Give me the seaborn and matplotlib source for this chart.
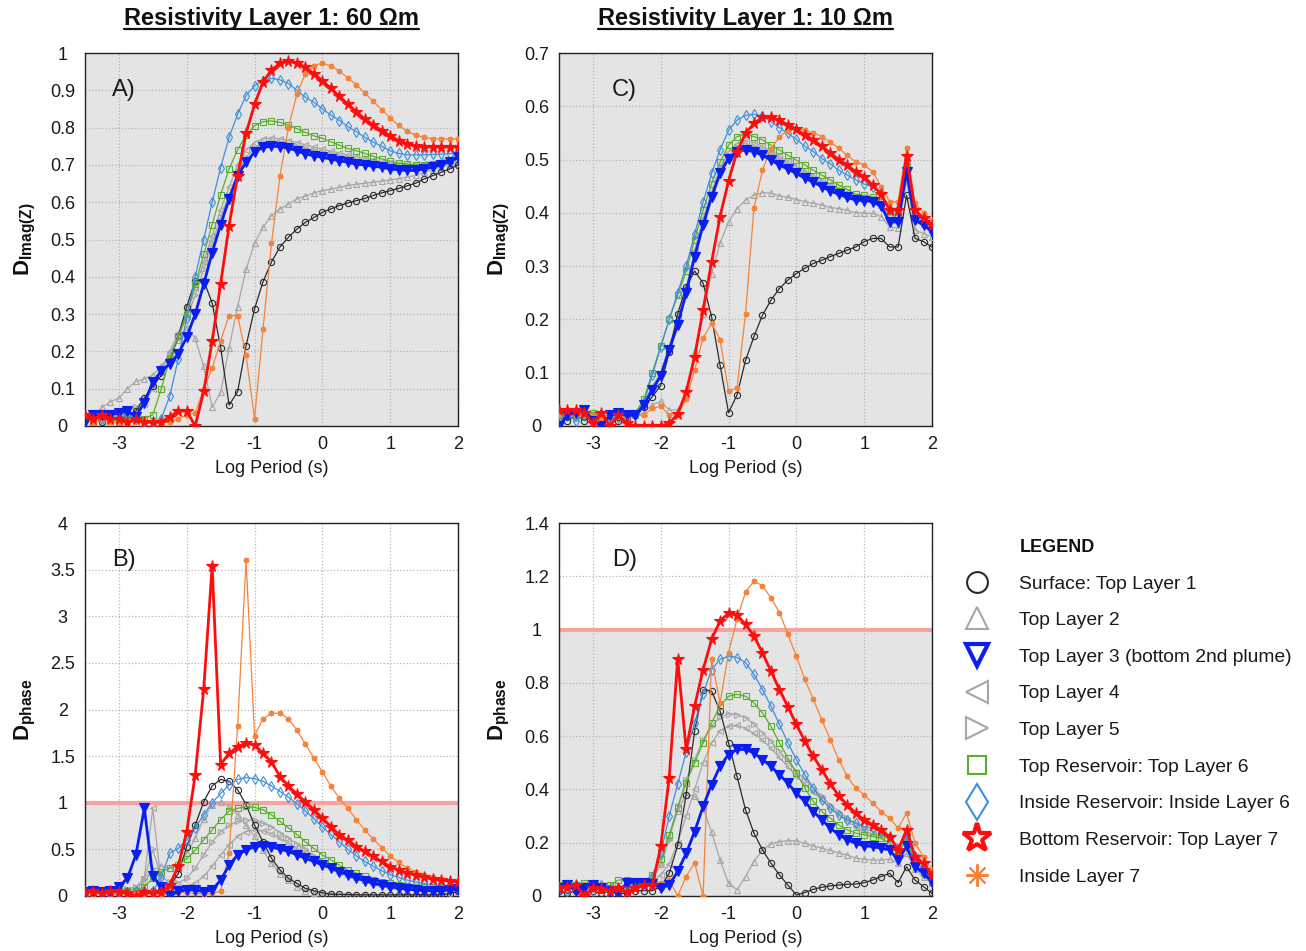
import numpy as np
import pandas as pd
import matplotlib
matplotlib.use("Agg")
import matplotlib.pyplot as plt
import seaborn as sns
from matplotlib.lines import Line2D

# ---------------- data ----------------
LOG_PERIOD = [-3.5, -3.375, -3.25, -3.125, -3.0, -2.875, -2.75, -2.625, -2.5, -2.375,
              -2.25, -2.125, -2.0, -1.875, -1.75, -1.625, -1.5, -1.375, -1.25, -1.125,
              -1.0, -0.875, -0.75, -0.625, -0.5, -0.375, -0.25, -0.125, 0.0, 0.125,
              0.25, 0.375, 0.5, 0.625, 0.75, 0.875, 1.0, 1.125, 1.25, 1.375,
              1.5, 1.625, 1.75, 1.875, 2.0]

SERIES = ["Surface: Top Layer 1", "Top Layer 2", "Top Layer 3 (bottom 2nd plume)",
          "Top Layer 4", "Top Layer 5", "Top Reservoir: Top Layer 6",
          "Inside Reservoir: Inside Layer 6", "Bottom Reservoir: Top Layer 7", "Inside Layer 7"]

# Panel A: D_Imag(Z), layer-1 resistivity 60 ohm-m
A_L1 = [0.02, 0.02, 0.01, 0.02, 0.02, 0.03, 0.04, 0.075, 0.108, 0.135, 0.175, 0.24, 0.32, 0.39,
        0.39, 0.33, 0.21, 0.056, 0.092, 0.215, 0.314, 0.387, 0.44, 0.48, 0.506, 0.528, 0.546, 0.559,
        0.573, 0.582, 0.591, 0.598, 0.604, 0.61, 0.618, 0.625, 0.631, 0.637, 0.644, 0.651, 0.662, 0.671,
        0.68, 0.689, 0.70]
A_L2 = [0.02, 0.03, 0.05, 0.065, 0.075, 0.10, 0.12, 0.126, 0.137, 0.16, 0.19, 0.23, 0.265, 0.235,
        0.16, 0.05, 0.09, 0.21, 0.32, 0.42, 0.49, 0.533, 0.564, 0.582, 0.595, 0.609, 0.617, 0.625,
        0.631, 0.635, 0.64, 0.645, 0.648, 0.651, 0.654, 0.657, 0.66, 0.663, 0.667, 0.672, 0.68, 0.687,
        0.694, 0.70, 0.705]
A_L3 = [0.01, 0.03, 0.03, 0.03, 0.035, 0.04, 0.025, 0.063, 0.117, 0.148, 0.166, 0.193, 0.238, 0.30,
        0.38, 0.465, 0.54, 0.608, 0.671, 0.707, 0.734, 0.747, 0.75, 0.749, 0.745, 0.738, 0.729, 0.725,
        0.72, 0.716, 0.711, 0.707, 0.702, 0.70, 0.696, 0.694, 0.689, 0.687, 0.685, 0.685, 0.689, 0.694,
        0.70, 0.709, 0.72]
A_L4 = [0.02, 0.02, 0.03, 0.02, 0.03, 0.03, 0.04, 0.06, 0.10, 0.15, 0.20, 0.25, 0.30, 0.37,
        0.44, 0.51, 0.58, 0.64, 0.70, 0.74, 0.76, 0.77, 0.772, 0.77, 0.765, 0.76, 0.754, 0.748,
        0.742, 0.737, 0.732, 0.727, 0.722, 0.717, 0.712, 0.708, 0.705, 0.703, 0.702, 0.702, 0.703, 0.706,
        0.71, 0.715, 0.72]
A_L5 = [0.02, 0.02, 0.02, 0.03, 0.03, 0.04, 0.05, 0.07, 0.11, 0.15, 0.19, 0.24, 0.29, 0.35,
        0.42, 0.49, 0.56, 0.62, 0.68, 0.72, 0.745, 0.757, 0.76, 0.758, 0.754, 0.749, 0.743, 0.738,
        0.733, 0.728, 0.723, 0.718, 0.713, 0.709, 0.705, 0.701, 0.698, 0.696, 0.695, 0.695, 0.697, 0.70,
        0.705, 0.711, 0.717]
A_L6 = [0.02, 0.01, 0.02, 0.02, 0.01, 0.02, 0.02, 0.02, 0.03, 0.10, 0.18, 0.24, 0.30, 0.38,
        0.46, 0.54, 0.62, 0.69, 0.74, 0.78, 0.805, 0.816, 0.818, 0.814, 0.807, 0.797, 0.787, 0.778,
        0.771, 0.762, 0.753, 0.744, 0.738, 0.731, 0.723, 0.716, 0.71, 0.705, 0.702, 0.70, 0.70, 0.702,
        0.706, 0.713, 0.719]
A_IN6 = [0.02, 0.03, 0.02, 0.02, 0.02, 0.03, 0.02, 0.01, 0.01, 0.02, 0.08, 0.18, 0.29, 0.40,
         0.50, 0.60, 0.693, 0.774, 0.836, 0.886, 0.912, 0.926, 0.932, 0.928, 0.918, 0.90, 0.881, 0.868,
         0.85, 0.834, 0.819, 0.803, 0.789, 0.774, 0.761, 0.75, 0.738, 0.731, 0.727, 0.727, 0.727, 0.728,
         0.729, 0.73, 0.733]
A_L7 = [0.03, 0.02, 0.03, 0.02, 0.02, 0.01, 0.02, 0.01, 0.01, 0.01, 0.025, 0.04, 0.04, 0.0,
        0.093, 0.227, 0.382, 0.537, 0.671, 0.785, 0.862, 0.923, 0.954, 0.973, 0.978, 0.973, 0.962, 0.944,
        0.926, 0.905, 0.884, 0.863, 0.843, 0.823, 0.807, 0.792, 0.778, 0.765, 0.756, 0.75, 0.748, 0.748,
        0.748, 0.748, 0.748]
A_IN7 = [0.02, 0.01, 0.02, 0.01, 0.01, 0.01, 0.01, 0.01, 0.01, 0.01, 0.01, 0.02, 0.03, 0.035,
         0.10, 0.155, 0.229, 0.296, 0.296, 0.19, 0.02, 0.26, 0.49, 0.67, 0.80, 0.89, 0.945, 0.966,
         0.973, 0.965, 0.952, 0.933, 0.915, 0.893, 0.87, 0.848, 0.826, 0.806, 0.79, 0.78, 0.774, 0.77,
         0.77, 0.77, 0.77]

# Panel B: D_phase, 60 ohm-m
B_L1 = [0.03, 0.04, 0.03, 0.02, 0.03, 0.04, 0.03, 0.04, 0.05, 0.06, 0.10, 0.24, 0.53, 0.76,
        1.01, 1.18, 1.25, 1.23, 1.14, 0.98, 0.76, 0.58, 0.405, 0.28, 0.19, 0.136, 0.082, 0.057,
        0.036, 0.02, 0.018, 0.015, 0.013, 0.012, 0.012, 0.012, 0.012, 0.012, 0.012, 0.012, 0.012, 0.012,
        0.015, 0.025, 0.05]
B_L2 = [0.05, 0.06, 0.05, 0.04, 0.05, 0.06, 0.08, 0.15, 0.28, 0.32, 0.30, 0.33, 0.46, 0.62,
        0.83, 0.98, 1.01, 0.96, 0.87, 0.76, 0.64, 0.49, 0.35, 0.24, 0.17, 0.10, 0.057, 0.036,
        0.02, 0.015, 0.015, 0.015, 0.015, 0.015, 0.015, 0.015, 0.015, 0.015, 0.015, 0.015, 0.015, 0.015,
        0.02, 0.03, 0.04]
B_L3 = [0.04, 0.05, 0.04, 0.05, 0.10, 0.19, 0.44, 0.94, 0.21, 0.10, 0.0, 0.05, 0.065, 0.065,
        0.045, 0.065, 0.17, 0.33, 0.44, 0.49, 0.53, 0.54, 0.53, 0.50, 0.48, 0.44, 0.405, 0.37,
        0.333, 0.30, 0.26, 0.226, 0.19, 0.165, 0.136, 0.115, 0.10, 0.082, 0.072, 0.065, 0.057, 0.054,
        0.054, 0.065, 0.072]
B_L4 = [0.03, 0.04, 0.05, 0.04, 0.05, 0.06, 0.08, 0.20, 0.94, 0.12, 0.10, 0.09, 0.10, 0.14,
        0.21, 0.32, 0.44, 0.55, 0.64, 0.69, 0.71, 0.70, 0.67, 0.62, 0.57, 0.51, 0.46, 0.40,
        0.35, 0.30, 0.26, 0.23, 0.20, 0.17, 0.15, 0.13, 0.12, 0.11, 0.097, 0.09, 0.082, 0.08,
        0.08, 0.082, 0.086]
B_L5 = [0.04, 0.05, 0.06, 0.05, 0.06, 0.08, 0.10, 0.18, 0.50, 0.20, 0.15, 0.14, 0.19, 0.30,
        0.44, 0.58, 0.69, 0.76, 0.80, 0.82, 0.81, 0.78, 0.74, 0.68, 0.62, 0.56, 0.50, 0.43,
        0.37, 0.32, 0.27, 0.24, 0.20, 0.17, 0.147, 0.13, 0.11, 0.10, 0.09, 0.082, 0.075, 0.075,
        0.075, 0.078, 0.082]
B_L6 = [0.03, 0.04, 0.05, 0.04, 0.05, 0.05, 0.05, 0.10, 0.19, 0.26, 0.30, 0.33, 0.40, 0.49,
        0.60, 0.71, 0.82, 0.91, 0.94, 0.96, 0.95, 0.925, 0.87, 0.80, 0.73, 0.66, 0.58, 0.51,
        0.44, 0.39, 0.33, 0.28, 0.244, 0.21, 0.17, 0.154, 0.136, 0.118, 0.11, 0.10, 0.10, 0.10,
        0.10, 0.10, 0.10]
B_IN6 = [0.03, 0.04, 0.03, 0.04, 0.03, 0.04, 0.05, 0.05, 0.05, 0.20, 0.46, 0.51, 0.60, 0.73,
         0.87, 1.00, 1.10, 1.19, 1.25, 1.27, 1.26, 1.23, 1.18, 1.12, 1.06, 0.99, 0.91, 0.83,
         0.74, 0.66, 0.58, 0.50, 0.43, 0.37, 0.32, 0.27, 0.23, 0.20, 0.17, 0.15, 0.135, 0.12,
         0.11, 0.105, 0.10]
B_L7 = [0.04, 0.05, 0.03, 0.05, 0.04, 0.03, 0.0, 0.04, 0.03, 0.04, 0.12, 0.32, 0.69, 1.30,
        2.215, 3.54, 1.41, 1.53, 1.60, 1.64, 1.62, 1.53, 1.44, 1.28, 1.18, 1.09, 1.01, 0.925,
        0.835, 0.745, 0.656, 0.60, 0.53, 0.48, 0.425, 0.37, 0.315, 0.28, 0.244, 0.226, 0.20, 0.18,
        0.17, 0.16, 0.154]
B_IN7 = [0.03, 0.02, 0.03, 0.02, 0.03, 0.02, 0.03, 0.02, 0.03, 0.02, 0.03, 0.04, 0.03, 0.03,
         0.02, 0.03, 0.05, 0.46, 1.82, 3.60, 1.72, 1.90, 1.96, 1.96, 1.90, 1.78, 1.63, 1.48,
         1.33, 1.18, 1.05, 0.94, 0.82, 0.71, 0.61, 0.52, 0.43, 0.36, 0.30, 0.26, 0.22, 0.20,
         0.18, 0.16, 0.15]

# Panel C: D_Imag(Z), layer-1 resistivity 10 ohm-m
C_L1 = [0.02, 0.01, 0.02, 0.01, 0.02, 0.015, 0.02, 0.01, 0.015, 0.02, 0.035, 0.055, 0.076, 0.138,
        0.211, 0.261, 0.291, 0.268, 0.205, 0.114, 0.025, 0.058, 0.123, 0.168, 0.208, 0.236, 0.258, 0.274,
        0.286, 0.296, 0.305, 0.311, 0.318, 0.324, 0.33, 0.336, 0.346, 0.352, 0.352, 0.336, 0.336, 0.433,
        0.352, 0.346, 0.336]
C_L2 = [0.02, 0.02, 0.015, 0.02, 0.02, 0.015, 0.02, 0.02, 0.02, 0.02, 0.025, 0.04, 0.046, 0.03,
        0.03, 0.06, 0.14, 0.21, 0.286, 0.343, 0.383, 0.408, 0.424, 0.433, 0.438, 0.437, 0.432, 0.429,
        0.425, 0.421, 0.418, 0.415, 0.41, 0.408, 0.405, 0.40, 0.40, 0.399, 0.393, 0.374, 0.371, 0.46,
        0.368, 0.361, 0.355]
C_L3 = [0.0, 0.02, 0.025, 0.03, 0.01, 0.0, 0.02, 0.025, 0.02, 0.02, 0.039, 0.068, 0.094, 0.143,
        0.19, 0.25, 0.318, 0.377, 0.43, 0.474, 0.502, 0.515, 0.518, 0.515, 0.508, 0.499, 0.49, 0.482,
        0.474, 0.465, 0.458, 0.449, 0.441, 0.435, 0.429, 0.424, 0.423, 0.421, 0.412, 0.383, 0.383, 0.477,
        0.386, 0.377, 0.365]
C_L4 = [0.02, 0.015, 0.02, 0.015, 0.02, 0.015, 0.02, 0.015, 0.02, 0.02, 0.045, 0.075, 0.10, 0.15,
        0.20, 0.26, 0.33, 0.39, 0.44, 0.485, 0.515, 0.53, 0.535, 0.532, 0.525, 0.516, 0.507, 0.498,
        0.489, 0.48, 0.471, 0.462, 0.454, 0.446, 0.439, 0.432, 0.43, 0.427, 0.418, 0.389, 0.389, 0.482,
        0.391, 0.381, 0.369]
C_L5 = [0.015, 0.02, 0.015, 0.02, 0.015, 0.02, 0.015, 0.02, 0.015, 0.02, 0.042, 0.072, 0.098, 0.147,
        0.195, 0.255, 0.325, 0.383, 0.435, 0.48, 0.508, 0.522, 0.527, 0.524, 0.517, 0.508, 0.499, 0.49,
        0.481, 0.472, 0.464, 0.456, 0.448, 0.44, 0.434, 0.428, 0.426, 0.424, 0.415, 0.386, 0.386, 0.48,
        0.388, 0.379, 0.367]
C_L6 = [0.02, 0.025, 0.02, 0.02, 0.025, 0.02, 0.02, 0.02, 0.02, 0.025, 0.05, 0.10, 0.15, 0.20,
        0.245, 0.29, 0.35, 0.405, 0.455, 0.495, 0.527, 0.543, 0.548, 0.543, 0.537, 0.527, 0.518, 0.508,
        0.499, 0.49, 0.48, 0.471, 0.462, 0.452, 0.444, 0.435, 0.433, 0.43, 0.421, 0.396, 0.396, 0.487,
        0.396, 0.386, 0.374]
C_IN6 = [0.015, 0.02, 0.01, 0.02, 0.015, 0.02, 0.01, 0.015, 0.02, 0.02, 0.045, 0.095, 0.148, 0.20,
         0.25, 0.30, 0.36, 0.42, 0.474, 0.518, 0.555, 0.574, 0.583, 0.585, 0.582, 0.571, 0.56, 0.549,
         0.538, 0.525, 0.515, 0.502, 0.492, 0.48, 0.471, 0.462, 0.454, 0.449, 0.437, 0.408, 0.408, 0.499,
         0.402, 0.39, 0.377]
C_L7 = [0.03, 0.03, 0.03, 0.025, 0.005, 0.025, 0.0, 0.02, 0.005, 0.0, 0.0, 0.0, 0.0, 0.005,
        0.022, 0.064, 0.13, 0.218, 0.308, 0.393, 0.46, 0.515, 0.549, 0.568, 0.579, 0.579, 0.574, 0.565,
        0.557, 0.546, 0.537, 0.525, 0.512, 0.50, 0.49, 0.477, 0.468, 0.452, 0.435, 0.405, 0.405, 0.507,
        0.405, 0.39, 0.377]
C_IN7 = [0.02, 0.025, 0.02, 0.025, 0.02, 0.015, 0.02, 0.02, 0.015, 0.02, 0.02, 0.033, 0.037, 0.02,
         0.022, 0.05, 0.105, 0.165, 0.193, 0.162, 0.065, 0.072, 0.21, 0.41, 0.48, 0.52, 0.543, 0.555,
         0.558, 0.555, 0.55, 0.543, 0.533, 0.521, 0.508, 0.496, 0.49, 0.477, 0.449, 0.421, 0.421, 0.521,
         0.418, 0.40, 0.386]

# Panel D: D_phase, 10 ohm-m
D_L1 = [0.02, 0.01, 0.02, 0.01, 0.02, 0.01, 0.02, 0.01, 0.01, 0.02, 0.02, 0.02, 0.035, 0.085,
        0.19, 0.38, 0.62, 0.775, 0.769, 0.694, 0.575, 0.449, 0.324, 0.236, 0.173, 0.123, 0.079, 0.041,
        0.004, 0.013, 0.025, 0.033, 0.038, 0.041, 0.044, 0.045, 0.05, 0.06, 0.073, 0.085, 0.05, 0.11,
        0.06, 0.035, 0.01]
D_L2 = [0.03, 0.04, 0.03, 0.04, 0.03, 0.03, 0.04, 0.03, 0.03, 0.04, 0.04, 0.06, 0.12, 0.22,
        0.32, 0.38, 0.375, 0.33, 0.24, 0.135, 0.048, 0.023, 0.073, 0.129, 0.173, 0.196, 0.204, 0.208,
        0.207, 0.198, 0.188, 0.179, 0.171, 0.161, 0.154, 0.142, 0.138, 0.135, 0.135, 0.138, 0.125, 0.16,
        0.10, 0.07, 0.05]
D_L3 = [0.03, 0.04, 0.02, 0.03, 0.04, 0.03, 0.02, 0.01, 0.05, 0.05, 0.05, 0.045, 0.03, 0.041,
        0.092, 0.16, 0.242, 0.336, 0.418, 0.487, 0.531, 0.55, 0.55, 0.537, 0.512, 0.487, 0.455, 0.424,
        0.386, 0.355, 0.317, 0.286, 0.255, 0.23, 0.211, 0.198, 0.188, 0.186, 0.179, 0.173, 0.135, 0.186,
        0.11, 0.085, 0.054]
D_L4 = [0.03, 0.03, 0.04, 0.03, 0.03, 0.04, 0.03, 0.03, 0.04, 0.03, 0.04, 0.05, 0.08, 0.12,
        0.20, 0.30, 0.40, 0.50, 0.575, 0.62, 0.637, 0.64, 0.63, 0.61, 0.585, 0.555, 0.52, 0.485,
        0.45, 0.42, 0.39, 0.36, 0.33, 0.305, 0.28, 0.26, 0.245, 0.232, 0.222, 0.215, 0.18, 0.215,
        0.15, 0.105, 0.07]
D_L5 = [0.03, 0.04, 0.03, 0.03, 0.04, 0.03, 0.03, 0.04, 0.03, 0.04, 0.04, 0.06, 0.12, 0.21,
        0.336, 0.437, 0.512, 0.587, 0.637, 0.672, 0.684, 0.681, 0.669, 0.644, 0.612, 0.581, 0.543, 0.506,
        0.468, 0.437, 0.405, 0.374, 0.342, 0.317, 0.292, 0.273, 0.255, 0.242, 0.23, 0.223, 0.186, 0.223,
        0.154, 0.11, 0.073]
D_L6 = [0.04, 0.05, 0.04, 0.05, 0.04, 0.03, 0.04, 0.06, 0.06, 0.05, 0.05, 0.08, 0.14, 0.23,
        0.33, 0.424, 0.50, 0.575, 0.65, 0.713, 0.75, 0.757, 0.75, 0.725, 0.687, 0.637, 0.575, 0.518,
        0.462, 0.405, 0.355, 0.317, 0.292, 0.267, 0.248, 0.236, 0.23, 0.223, 0.217, 0.198, 0.154, 0.217,
        0.123, 0.085, 0.054]
D_IN6 = [0.03, 0.02, 0.04, 0.03, 0.02, 0.04, 0.0, 0.03, 0.04, 0.04, 0.04, 0.07, 0.16, 0.30,
         0.42, 0.54, 0.65, 0.76, 0.85, 0.888, 0.90, 0.895, 0.876, 0.832, 0.775, 0.713, 0.644, 0.575,
         0.512, 0.455, 0.405, 0.361, 0.33, 0.305, 0.286, 0.273, 0.261, 0.255, 0.242, 0.223, 0.173, 0.23,
         0.135, 0.098, 0.066]
D_L7 = [0.03, 0.035, 0.04, 0.0, 0.03, 0.025, 0.02, 0.03, 0.015, 0.03, 0.04, 0.04, 0.186, 0.443,
        0.888, 0.55, 0.713, 0.85, 0.963, 1.033, 1.061, 1.054, 1.02, 0.976, 0.913, 0.844, 0.775, 0.71,
        0.644, 0.581, 0.524, 0.474, 0.422, 0.376, 0.342, 0.311, 0.286, 0.267, 0.248, 0.223, 0.173, 0.248,
        0.148, 0.123, 0.079]
D_IN7 = [0.03, 0.04, 0.03, 0.04, 0.03, 0.04, 0.03, 0.02, 0.02, 0.03, 0.04, 0.05, 0.05, 0.06,
         0.0, 0.073, 0.125, 0.0, 0.888, 0.725, 0.913, 1.04, 1.14, 1.183, 1.164, 1.12, 1.064, 0.982,
         0.90, 0.813, 0.738, 0.662, 0.587, 0.512, 0.449, 0.405, 0.38, 0.349, 0.317, 0.292, 0.255, 0.311,
         0.198, 0.148, 0.098]

PANELS = {
    "A": [A_L1, A_L2, A_L3, A_L4, A_L5, A_L6, A_IN6, A_L7, A_IN7],
    "B": [B_L1, B_L2, B_L3, B_L4, B_L5, B_L6, B_IN6, B_L7, B_IN7],
    "C": [C_L1, C_L2, C_L3, C_L4, C_L5, C_L6, C_IN6, C_L7, C_IN7],
    "D": [D_L1, D_L2, D_L3, D_L4, D_L5, D_L6, D_IN6, D_L7, D_IN7],
}

TITLES = ["Resistivity Layer 1: 60 \u03a9m", "Resistivity Layer 1: 10 \u03a9m"]

# ---------------- styles ----------------
BLACK = "#2a2a2a"
GRAY = "#a6a6a6"
BLUE = "#0a1ef2"
GREEN = "#5aae2e"
LBLUE = "#3d8fdc"
RED = "#ff0d0d"
ORANGE = "#f5843a"
ASTER = (8, 2, 0)

STYLE = [
    dict(color=BLACK, marker="o", ms=4.5, mfc="none", mew=0.8, lw=0.9, z=4),
    dict(color=GRAY, marker="^", ms=4.5, mfc="none", mew=0.8, lw=0.9, z=3),
    dict(color=BLUE, marker="v", ms=6.5, mfc=BLUE, mew=0.8, lw=2.0, z=7),
    dict(color=GRAY, marker="<", ms=4.5, mfc="none", mew=0.8, lw=0.9, z=3),
    dict(color=GRAY, marker=">", ms=4.5, mfc="none", mew=0.8, lw=0.9, z=3),
    dict(color=GREEN, marker="s", ms=4.0, mfc="none", mew=0.8, lw=0.9, z=5),
    dict(color=LBLUE, marker="d", ms=5.0, mfc="none", mew=0.8, lw=0.9, z=5),
    dict(color=RED, marker="*", ms=8.5, mfc=RED, mew=0.8, lw=2.0, z=8),
    dict(color=ORANGE, marker=ASTER, ms=4.0, mfc=ORANGE, mew=0.9, lw=0.9, z=6),
]

sns.set_theme(style="white")
plt.rcParams["font.family"] = ["Liberation Sans", "DejaVu Sans"]
plt.rcParams["mathtext.fontset"] = "custom"
plt.rcParams["mathtext.rm"] = "Liberation Sans"
plt.rcParams["mathtext.bf"] = "Liberation Sans:bold"
plt.rcParams["mathtext.it"] = "Liberation Sans:italic"

fig = plt.figure(figsize=(13.06, 9.51), dpi=100)
W, H = 1306.0, 951.0

def rect(left, top, w=373, h=373):
    return [left / W, 1 - (top + h) / H, w / W, h / H]

axes = {
    "A": fig.add_axes(rect(85, 53)),
    "B": fig.add_axes(rect(85, 523)),
    "C": fig.add_axes(rect(559, 53)),
    "D": fig.add_axes(rect(559, 523)),
}

YCFG = {
    "A": (1.0, [0, 0.1, 0.2, 0.3, 0.4, 0.5, 0.6, 0.7, 0.8, 0.9, 1.0]),
    "B": (4.0, [0, 0.5, 1, 1.5, 2, 2.5, 3, 3.5, 4]),
    "C": (0.7, [0, 0.1, 0.2, 0.3, 0.4, 0.5, 0.6, 0.7]),
    "D": (1.4, [0, 0.2, 0.4, 0.6, 0.8, 1.0, 1.2, 1.4]),
}

for key, ax in axes.items():
    ymax, yticks = YCFG[key]
    ax.set_facecolor("white")
    ax.axhspan(0, 1, color="#e4e4e4", lw=0, zorder=0)
    if key in ("B", "D"):
        ax.axhline(1, color="#f3a3a3", lw=3, zorder=1)
    ax.set_axisbelow(True)
    ax.grid(True, ls=":", color="#b5b5b5", lw=0.9)
    order = [1, 3, 4, 0, 5, 6, 8, 2, 7]
    for idx in order:
        st = STYLE[idx]
        vals = PANELS[key][idx]
        df = pd.DataFrame({"x": LOG_PERIOD, "y": vals})
        sns.lineplot(data=df, x="x", y="y", ax=ax, color=st["color"], marker=st["marker"],
                     markersize=st["ms"], markerfacecolor=st["mfc"], markeredgecolor=st["color"],
                     markeredgewidth=st["mew"], linewidth=st["lw"], zorder=st["z"],
                     sort=False, errorbar=None, legend=False)
    ax.set_xlim(-3.5, 2.0)
    ax.set_ylim(0, ymax)
    ax.set_xticks([-3, -2, -1, 0, 1, 2])
    ax.set_xticklabels(["-3", "-2", "-1", "0", "1", "2"])
    ax.set_yticks(yticks)
    ax.set_yticklabels(["{:g}".format(v) for v in yticks])
    for lab in ax.get_yticklabels():
        lab.set_horizontalalignment("center")
    ax.tick_params(axis="both", length=0, labelsize=13, colors="#1a1a1a")
    ax.tick_params(axis="y", pad=16)
    ax.tick_params(axis="x", pad=7)
    for sp in ax.spines.values():
        sp.set_visible(True)
        sp.set_color("#222222")
        sp.set_linewidth(1.0)
    ax.set_xlabel("Log Period (s)", fontsize=13, labelpad=5, color="#1a1a1a")
    if key in ("A", "C"):
        ax.set_ylabel(r"$\mathbf{D}_{\mathbf{Imag(Z)}}$", fontsize=16, color="#111111")
    else:
        ax.set_ylabel(r"$\mathbf{D}_{\mathbf{phase}}$", fontsize=16, color="#111111")
    ax.yaxis.set_label_coords(-0.126, 0.5)
    lx = 0.072 if key in ("A", "B") else 0.142
    ax.text(lx, 0.9, key + ")", transform=ax.transAxes, fontsize=17, va="center", ha="left",
            color="#1a1a1a", zorder=10)

# titles with underline
title_objs = []
for tx, cx in zip(TITLES, [271.5 / W, 745.5 / W]):
    t = fig.text(cx, 1 - 19 / H, tx, ha="center", va="center", fontsize=17, fontweight="bold",
                 family=["Liberation Sans Narrow", "Liberation Sans", "DejaVu Sans"], color="#111111")
    title_objs.append(t)
fig.canvas.draw()
r = fig.canvas.get_renderer()
for t in title_objs:
    bb = t.get_window_extent(r)
    y = (bb.y0 + 1.5) / H
    fig.add_artist(Line2D([bb.x0 / W, bb.x1 / W], [y, y], color="#111111", lw=1.6))

# legend
fig.text(1020 / W, 1 - 547 / H, "LEGEND", fontsize=13, fontweight="bold", ha="left", va="center",
         color="#111111")
leg_style = [
    dict(marker="o", ms=15, mfc="none", mec=BLACK, mew=1.5),
    dict(marker="^", ms=16, mfc="none", mec=GRAY, mew=1.5),
    dict(marker="v", ms=16, mfc="none", mec=BLUE, mew=3.0),
    dict(marker="<", ms=16, mfc="none", mec=GRAY, mew=1.5),
    dict(marker=">", ms=16, mfc="none", mec=GRAY, mew=1.5),
    dict(marker="s", ms=13, mfc="none", mec=GREEN, mew=1.5),
    dict(marker="d", ms=18, mfc="none", mec=LBLUE, mew=1.5),
    dict(marker="*", ms=21, mfc="white", mec=RED, mew=3.0),
    dict(marker=ASTER, ms=16, mfc=ORANGE, mec=ORANGE, mew=1.5),
]
handles = [Line2D([], [], linestyle="none", **s) for s in leg_style]
fs = 13.9
fs_px = fs * 100 / 72.0
fig.legend(handles, SERIES, loc="upper left", bbox_to_anchor=((977 - fs_px) / W, 1 - 575 / H),
           frameon=False, fontsize=fs, handlelength=2.0, handletextpad=42.0 / fs_px - 1.0,
           labelspacing=0.99, borderpad=0, borderaxespad=0, labelcolor="#1a1a1a")

fig.savefig("out.png", dpi=100)
